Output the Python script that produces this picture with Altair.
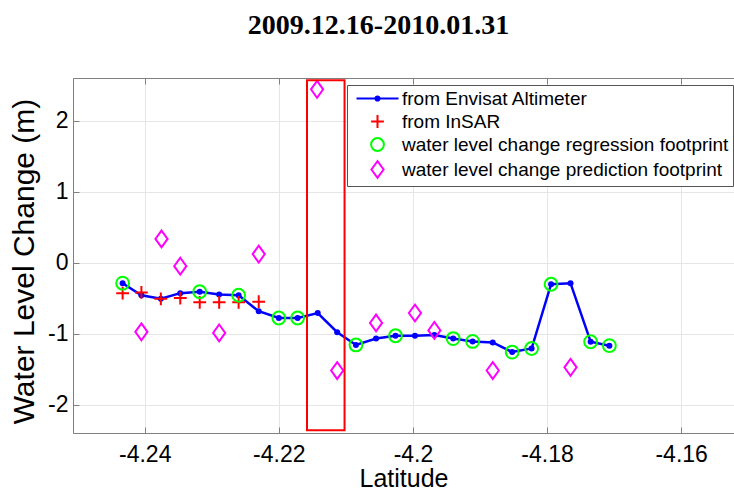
import altair as alt
import pandas as pd

# ---- data -----------------------------------------------------------------
# Envisat altimeter water level change along the track (latitude, metres)
alt_lat = [-4.2433, -4.2405, -4.2376, -4.2347, -4.2318, -4.2289, -4.2260, -4.2230,
           -4.2200, -4.2172, -4.2142, -4.2113, -4.2085, -4.2055, -4.2026, -4.1997,
           -4.1968, -4.1940, -4.1911, -4.1881, -4.1852, -4.1823, -4.1794, -4.1765,
           -4.1735, -4.1707]
alt_val = [-0.29, -0.46, -0.51, -0.43, -0.41, -0.45, -0.46, -0.685,
           -0.78, -0.78, -0.71, -0.98, -1.16, -1.07, -1.03, -1.03,
           -1.02, -1.07, -1.11, -1.125, -1.26, -1.21, -0.305, -0.29,
           -1.115, -1.17]

# InSAR-derived water level change
insar_lat = [-4.2433, -4.2405, -4.2376, -4.2347, -4.2318, -4.2289, -4.2260, -4.2230]
insar_val = [-0.43, -0.42, -0.51, -0.50, -0.56, -0.56, -0.56, -0.55]

# footprints used for the regression
reg_lat = [-4.2433, -4.2318, -4.2260, -4.2200, -4.2172, -4.2085, -4.2026,
           -4.1940, -4.1911, -4.1852, -4.1823, -4.1794, -4.1735, -4.1707]
reg_val = [-0.29, -0.41, -0.46, -0.78, -0.78, -1.16, -1.03,
           -1.07, -1.11, -1.26, -1.21, -0.305, -1.115, -1.17]

# footprints where the water level change is predicted
pred_lat = [-4.2405, -4.2375, -4.2347, -4.2289, -4.2230, -4.2143,
            -4.2113, -4.2055, -4.1997, -4.1968, -4.1881, -4.1765]
pred_val = [-0.975, 0.333, -0.05, -0.99, 0.12, 2.44,
            -1.52, -0.85, -0.71, -0.955, -1.52, -1.475]

# highlighted latitude band
box_lat = [-4.2158, -4.2102]
box_val = [-2.36, 2.57]

x_ticks = [-4.24, -4.22, -4.2, -4.18, -4.16]
y_ticks = [-2, -1, 0, 1, 2]

series_names = ["from Envisat Altimeter", "from InSAR",
                "water level change regression footprint",
                "water level change prediction footprint"]

# ---- styling --------------------------------------------------------------
W, H = 661, 355
X_DOMAIN = [-4.2507, -4.2507 + W / 6705.0]
Y_DOMAIN = [-2.4, 2.6]
AXIS_GRAY = "#808080"
GRID_GRAY = "#e6e6e6"
FONT = "Liberation Sans"
SYM = 256  # symbol area; one path unit = 8 px

LINE_DOT = "M-2.625,0L2.625,0M0.26,0A0.26,0.26,0,1,1,-0.26,0A0.26,0.26,0,1,1,0.26,0"
CROSS = "M-0.8,0L0.8,0M0,-0.8L0,0.8"
RING = "M0.8,0A0.8,0.8,0,1,1,-0.8,0A0.8,0.8,0,1,1,0.8,0Z"
DIAMOND = "M0,-1.05L0.76,0L0,1.05L-0.76,0Z"
series_colors = ["#0000ff", "#ff0000", "#00ff00", "#ff00ff"]
series_shapes = [LINE_DOT, CROSS, RING, DIAMOND]

# ---- tables ---------------------------------------------------------------
alt_df = pd.DataFrame({"lat": alt_lat, "val": alt_val})
marker_df = pd.concat([
    pd.DataFrame({"lat": insar_lat, "val": insar_val, "series": series_names[1]}),
    pd.DataFrame({"lat": reg_lat, "val": reg_val, "series": series_names[2]}),
    pd.DataFrame({"lat": pred_lat, "val": pred_val, "series": series_names[3]}),
], ignore_index=True)
box_df = pd.DataFrame({"lat0": [box_lat[0]], "lat1": [box_lat[1]],
                       "v0": [box_val[0]], "v1": [box_val[1]]})

x_scale = alt.Scale(domain=X_DOMAIN, nice=False, zero=False)
y_scale = alt.Scale(domain=Y_DOMAIN, nice=False, zero=False)

label_expr = "'' + datum.value"

x_axis = alt.Axis(values=x_ticks, labelExpr=label_expr, ticks=False, tickSize=0,
                  domain=True, domainColor=AXIS_GRAY, domainWidth=1,
                  grid=True, gridColor=GRID_GRAY, gridWidth=1,
                  labelFont=FONT, labelFontSize=23, labelColor="black",
                  labelPadding=10, title="Latitude", titleFont=FONT,
                  titleFontSize=25, titleFontWeight="normal", titleColor="black",
                  titleBaseline="alphabetic", titleY=53)
y_axis = alt.Axis(values=y_ticks, labelExpr=label_expr, ticks=False, tickSize=0,
                  domain=True, domainColor=AXIS_GRAY, domainWidth=1,
                  grid=True, gridColor=GRID_GRAY, gridWidth=1,
                  labelFont=FONT, labelFontSize=23, labelColor="black",
                  labelPadding=5, title="Water Level Change (m)", titleFont=FONT,
                  titleFontSize=30, titleFontWeight="normal", titleColor="black",
                  titleAngle=270, titleBaseline="alphabetic",
                  titleX=-40, titleY=183)

legend = alt.Legend(title=None, orient="none", legendX=274, legendY=7,
                    symbolSize=SYM, symbolStrokeWidth=2, symbolOffset=17,
                    labelFont=FONT, labelFontSize=19, labelColor="black",
                    labelOffset=15, labelLimit=600, padding=4, rowPadding=2,
                    strokeColor="#555555", fillColor="white")

# ---- marks ----------------------------------------------------------------
line = alt.Chart(alt_df).mark_line(color="#0000ff", strokeWidth=2.5).encode(
    x=alt.X("lat:Q", scale=x_scale, axis=x_axis),
    y=alt.Y("val:Q", scale=y_scale, axis=y_axis),
)
dots = alt.Chart(alt_df).mark_circle(color="#0000ff", size=36, opacity=1).encode(
    x=alt.X("lat:Q", scale=x_scale),
    y=alt.Y("val:Q", scale=y_scale),
)
markers = alt.Chart(marker_df).mark_point(filled=False, size=SYM, strokeWidth=2,
                                          opacity=1).encode(
    x=alt.X("lat:Q", scale=x_scale),
    y=alt.Y("val:Q", scale=y_scale),
    color=alt.Color("series:N", legend=legend,
                    scale=alt.Scale(domain=series_names, range=series_colors)),
    shape=alt.Shape("series:N", legend=legend,
                    scale=alt.Scale(domain=series_names, range=series_shapes)),
)
band = alt.Chart(box_df).mark_rect(fill=None, fillOpacity=0, stroke="#ff0000",
                                   strokeWidth=2).encode(
    x=alt.X("lat0:Q", scale=x_scale),
    x2="lat1:Q",
    y=alt.Y("v0:Q", scale=y_scale),
    y2="v1:Q",
)

main = alt.layer(line, dots, markers, band)

# inward-pointing tick marks on the box edges
tick_style = dict(labels=False, grid=False, ticks=True, tickSize=6,
                  tickColor=AXIS_GRAY, tickWidth=1, title=None)
ticks_top = alt.Chart(alt_df).mark_point(opacity=0).encode(
    x=alt.X("lat:Q", scale=x_scale,
            axis=alt.Axis(values=x_ticks, orient="bottom", offset=-H,
                          domain=True, domainColor=AXIS_GRAY, **tick_style)),
    y=alt.Y("val:Q", scale=y_scale, axis=None),
)
ticks_bottom = alt.Chart(alt_df).mark_point(opacity=0).encode(
    x=alt.X("lat:Q", scale=x_scale,
            axis=alt.Axis(values=x_ticks, orient="top", offset=-H,
                          domain=False, **tick_style)),
    y=alt.Y("val:Q", scale=y_scale, axis=None),
)
ticks_left = alt.Chart(alt_df).mark_point(opacity=0).encode(
    x=alt.X("lat:Q", scale=x_scale, axis=None),
    y=alt.Y("val:Q", scale=y_scale,
            axis=alt.Axis(values=y_ticks, orient="right", offset=-W,
                          domain=False, **tick_style)),
)

chart = alt.layer(main, ticks_top, ticks_bottom, ticks_left).resolve_axis(
    x="independent", y="independent"
).properties(
    width=W, height=H,
    title=alt.TitleParams("2009.12.16-2010.01.31", font="Liberation Serif",
                          fontSize=28, fontWeight="bold", color="black",
                          anchor="middle", frame="group", offset=37, dx=-25),
    padding={"left": 73, "top": 78, "right": 0, "bottom": 58},
    autosize=alt.AutoSizeParams(type="none"),
).configure_view(stroke=None).configure(background="white")

chart.save("out.html", embed_options={"renderer": "svg", "actions": False})
